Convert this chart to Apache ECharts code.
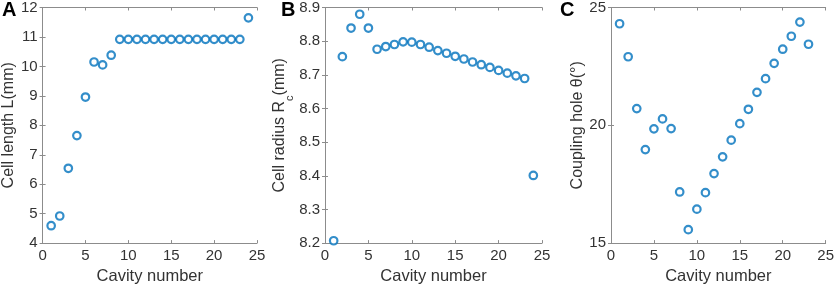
<!DOCTYPE html>
<html>
<head>
<meta charset="utf-8">
<script src="https://cdn.jsdelivr.net/npm/echarts@6/dist/echarts.min.js"></script>
<style>
  html, body { margin: 0; padding: 0; background: #fff; }
  #chart { width: 837px; height: 290px; }
</style>
</head>
<body>
<div id="chart"></div>
<script>
// cavity numbers
const cavityA = [1,2,3,4,5,6,7,8,9,10,11,12,13,14,15,16,17,18,19,20,21,22,23,24]
const cavityB = [1,2,3,4,5,6,7,8,9,10,11,12,13,14,15,16,17,18,19,20,21,22,23,24]
const cavityC = [1,2,3,4,5,6,7,8,9,10,11,12,13,14,15,16,17,18,19,20,21,22,23]

// A: cell length L (mm)
const cellLength = [4.59,4.92,6.54,7.65,8.96,10.15,10.05,10.38,
    10.92,10.92,10.92,10.92,10.92,10.92,10.92,10.92,10.92,10.92,10.92,10.92,10.92,10.92,10.92,11.65]
// B: cell radius Rc (mm)
const cellRadius = [8.207,8.754,8.839,8.880,8.839,8.776,8.784,8.790,8.798,8.797,8.790,8.782,
    8.772,8.764,8.755,8.747,8.738,8.730,8.722,8.713,8.705,8.697,8.689,8.401]
// C: coupling hole angle (deg)
const couplingHole = [24.31,22.91,20.71,18.97,19.85,20.27,19.86,17.17,15.57,16.44,17.14,17.95,
    18.66,19.37,20.07,20.68,21.40,21.98,22.63,23.23,23.78,24.38,23.44]

const panelLetters = ['A', 'B', 'C']
const yNames = ['Cell length L(mm)', '{n|Cell radius R}{s|c}{n|(mm)}', 'Coupling hole θ(°)']

const blue = '#0072BD'
const labelColor = '#333333'
const boxColor = '#8c8c8c'
const font = 'Liberation Sans, Arial, sans-serif'

const grids = [
    { left: 40, right: 580, top: 7, bottom: 42 },
    { left: 325, right: 295, top: 7, bottom: 42 },
    { left: 611, right: 9, top: 7, bottom: 42 }
]
const yRanges = [
    { min: 4, max: 12, interval: 1 },
    { min: 8.2, max: 8.9, interval: 0.1 },
    { min: 15, max: 25, interval: 5 }
]
const nameGaps = [21, 32, 22]
const seriesData = [
    cavityA.map((c, i) => [c, cellLength[i]]),
    cavityB.map((c, i) => [c, cellRadius[i]]),
    cavityC.map((c, i) => [c, couplingHole[i]])
]

const xAxes = []
const yAxes = []
const series = []
grids.forEach((g, i) => {
    xAxes.push({
        gridIndex: i, type: 'value', min: 0, max: 25, interval: 5,
        name: 'Cavity number', nameLocation: 'middle', nameGap: 19,
        nameTextStyle: { fontSize: 16.5, color: labelColor, fontFamily: font },
        axisLine: { show: true, lineStyle: { color: boxColor, width: 1 } },
        axisTick: { show: true, inside: true, length: 3, lineStyle: { color: boxColor } },
        axisLabel: { fontSize: 15, color: labelColor, fontFamily: font, margin: 5 },
        splitLine: { show: false }
    })
    xAxes.push({
        gridIndex: i, type: 'value', min: 0, max: 25, interval: 5, position: 'top',
        axisLine: { show: true, lineStyle: { color: boxColor, width: 1 } },
        axisTick: { show: true, inside: true, length: 3, lineStyle: { color: boxColor } },
        axisLabel: { show: false }, splitLine: { show: false }
    })
    const r = yRanges[i]
    yAxes.push({
        gridIndex: i, type: 'value', min: r.min, max: r.max, interval: r.interval,
        name: yNames[i], nameLocation: 'middle', nameGap: nameGaps[i], nameRotate: 90,
        nameTextStyle: {
            fontSize: 16, color: labelColor, fontFamily: font,
            rich: {
                n: { fontSize: 16, color: labelColor, fontFamily: font },
                s: { fontSize: 11, color: labelColor, fontFamily: font, verticalAlign: 'bottom', padding: [0, 0, -8, 0] }
            }
        },
        axisLine: { show: true, lineStyle: { color: boxColor, width: 1 } },
        axisTick: { show: true, inside: true, length: 3, lineStyle: { color: boxColor } },
        axisLabel: {
            fontSize: 15, color: labelColor, fontFamily: font, margin: 5,
            formatter: v => i === 1 ? v.toFixed(1) : String(v)
        },
        splitLine: { show: false }
    })
    yAxes.push({
        gridIndex: i, type: 'value', min: r.min, max: r.max, interval: r.interval, position: 'right',
        axisLine: { show: true, lineStyle: { color: boxColor, width: 1 } },
        axisTick: { show: true, inside: true, length: 3, lineStyle: { color: boxColor } },
        axisLabel: { show: false }, splitLine: { show: false }
    })
    series.push({
        type: 'scatter', xAxisIndex: i * 2, yAxisIndex: i * 2,
        data: seriesData[i], symbol: 'circle', symbolSize: 7.5,
        itemStyle: { color: '#fff', borderColor: blue, borderWidth: 2.2 },
        emphasis: { disabled: true }
    })
})

const myChart = echarts.init(document.getElementById('chart'))
myChart.setOption({
    animation: false,
    backgroundColor: '#fff',
    grid: grids,
    xAxis: xAxes,
    yAxis: yAxes,
    graphic: panelLetters.map((t, i) => ({
        type: 'text', left: [2, 281, 560][i], top: 0,
        style: { text: t, fontSize: 20, fontWeight: 'bold', fill: '#000', fontFamily: font }
    })),
    series: series
})
</script>
</body>
</html>
